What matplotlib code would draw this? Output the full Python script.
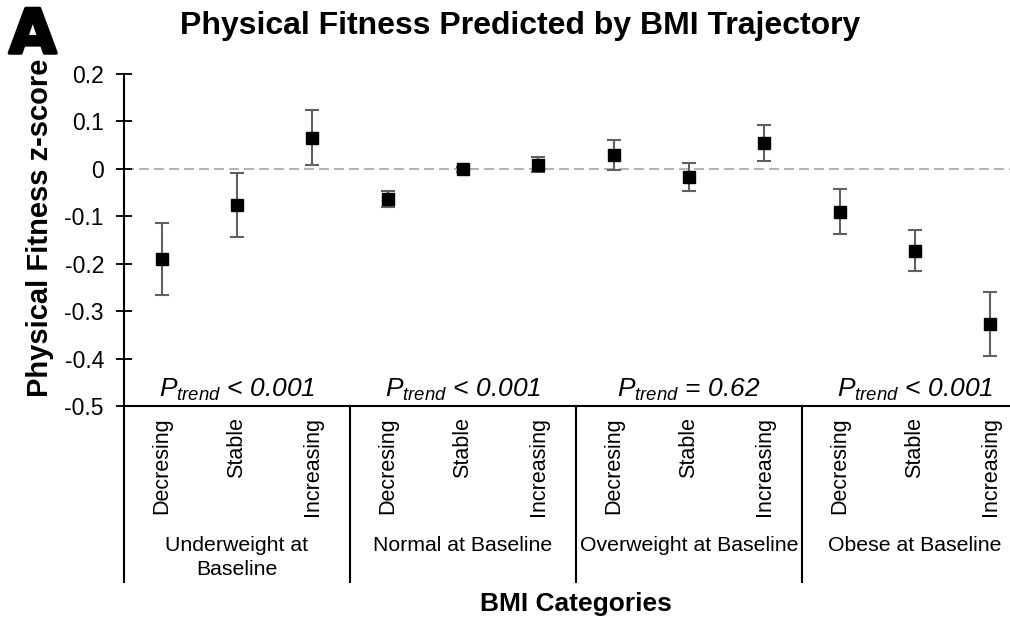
import matplotlib.pyplot as plt
import matplotlib.transforms as mtransforms
import matplotlib.patheffects as pe

plt.rcParams['font.family'] = ['Liberation Sans', 'DejaVu Sans']
plt.rcParams['mathtext.fontset'] = 'custom'
plt.rcParams['mathtext.it'] = 'Liberation Sans:italic'
plt.rcParams['mathtext.rm'] = 'Liberation Sans:italic'
plt.rcParams['axes.unicode_minus'] = False

# data
groups = ['Underweight at\nBaseline', 'Normal at Baseline',
          'Overweight at Baseline', 'Obese at Baseline']
trajectories = ['Decresing', 'Stable', 'Increasing']
p_trend = ['< 0.001', '< 0.001', '= 0.62', '< 0.001']

means = [-0.190, -0.076, 0.066,
         -0.064, -0.001, 0.009,
         0.029, -0.017, 0.054,
         -0.090, -0.173, -0.327]
errors = [0.075, 0.067, 0.057,
          0.017, 0.005, 0.015,
          0.031, 0.029, 0.038,
          0.048, 0.043, 0.067]
yticks = [0.2, 0.1, 0, -0.1, -0.2, -0.3, -0.4, -0.5]

fig = plt.figure(figsize=(10.1, 6.2), dpi=100)
ax = fig.add_axes([0.1228, 0.3452, 0.8950, 0.5355])

x = list(range(len(means)))
ax.axhline(0, color='#a6a6a6', lw=1.2, ls=(0, (6, 3)), zorder=1)
ax.errorbar(x, means, yerr=errors, fmt='s', color='black', ms=8,
            ecolor='#606060', elinewidth=1.5, capsize=5, capthick=1.5, zorder=3)

ax.set_xlim(-0.5, len(means) - 0.5)
ax.set_ylim(-0.5, 0.2)
ax.set_yticks(yticks)
ax.set_yticklabels([f'{v:g}' for v in yticks], fontsize=16.5)
ax.tick_params(axis='y', direction='inout', length=11, width=1.3, pad=9)

ax.set_xticks(x)
ax.set_xticklabels(trajectories * len(groups), rotation=90, fontsize=15.5)
ax.tick_params(axis='x', length=0, pad=8)

for s in ['top', 'right']:
    ax.spines[s].set_visible(False)
for s in ['left', 'bottom']:
    ax.spines[s].set_linewidth(1.5)

# group separators, group labels and trend p-values
trans = mtransforms.blended_transform_factory(ax.transData, ax.transAxes)
n = len(trajectories)
for i, g in enumerate(groups):
    left = i * n - 0.5
    ax.plot([left, left], [0, -0.53], transform=trans, clip_on=False,
            color='black', lw=1.5)
    cx = i * n + (n - 1) / 2
    ax.text(cx, -0.392, g, transform=trans, ha='center', va='top',
            fontsize=15.3, linespacing=1.35)
    ax.text(cx, -0.493, r'$P_{trend}$ ' + p_trend[i], ha='center',
            va='bottom', fontsize=19, style='italic')

fig.text(0.515, 0.945, 'Physical Fitness Predicted by BMI Trajectory',
         ha='center', va='baseline', fontsize=23, fontweight='bold')
fig.text(0.009, 0.9145, 'A', ha='left', va='baseline', fontsize=44,
         fontweight='bold', family='DejaVu Sans',
         path_effects=[pe.Stroke(linewidth=2.5, foreground='black'),
                       pe.Normal()])
fig.text(0.040, 1 - 228 / 620, 'Physical Fitness z-score', rotation=90,
         ha='center', va='center', fontsize=21, fontweight='bold')
fig.text(576 / 1010, 1 - 611 / 620, 'BMI Categories', ha='center',
         va='baseline', fontsize=19, fontweight='bold')

fig.savefig('out.png', dpi=100)
